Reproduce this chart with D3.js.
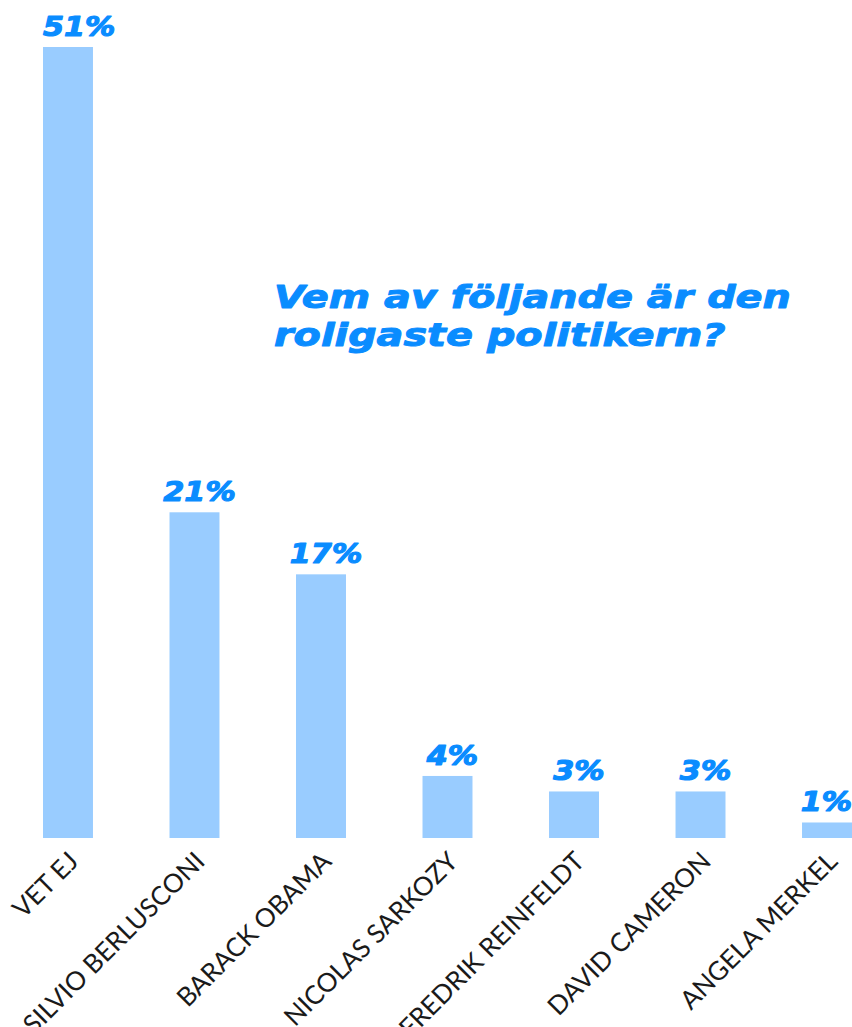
<!DOCTYPE html>
<html><head><meta charset="utf-8">
<script src="https://cdn.jsdelivr.net/npm/d3@7"></script>
<style>body{margin:0;background:#fff}</style></head>
<body>
<svg id="c" width="852" height="1027"></svg>
<script>
const categories = ["VET EJ","SILVIO BERLUSCONI","BARACK OBAMA","NICOLAS SARKOZY","FREDRIK REINFELDT","DAVID CAMERON","ANGELA MERKEL"];
const values = [51,21,17,4,3,3,1];
const valueLabels = ["51%","21%","17%","4%","3%","3%","1%"];
const titleLines = ["Vem av följande är den","roligaste politikern?"];

const svg = d3.select("#c");
const plotLeft = 43, plotRight = 852, plotTop = 47, plotBottom = 838;
const blue = "#0a8cff";
const x = d3.scaleBand().domain(categories).range([plotLeft, plotRight]).paddingInner(0.605).paddingOuter(0);
const y = d3.scaleLinear().domain([0, d3.max(values)]).range([plotBottom, plotTop]);
const data = categories.map((c,i)=>({c, v:values[i], l:valueLabels[i]}));

svg.selectAll("rect.bar").data(data).join("rect").attr("class","bar")
  .attr("x", d=>x(d.c)).attr("width", x.bandwidth())
  .attr("y", d=>y(d.v)).attr("height", d=>y(0)-y(d.v))
  .attr("fill","#99ccff");

const boldFont = "'DejaVu Sans', sans-serif";
const labStretch = 1.12;
const labs = svg.selectAll("g.vl").data(data).join("g").attr("class","vl");
labs.each(function(d){
  const g = d3.select(this);
  const t = g.append("text").text(d.l)
    .attr("font-family", boldFont).attr("font-weight","bold").attr("font-style","italic")
    .attr("font-size", 27).attr("fill", blue).attr("stroke", blue).attr("stroke-width", 1.2)
    .attr("stroke-linejoin","round").attr("text-anchor","middle");
  const w = t.node().getComputedTextLength()*labStretch;
  let cx = Math.max(x(d.c)+x.bandwidth()/2+5, plotLeft + w/2);
  cx = Math.min(cx, plotRight - w/2);
  g.attr("transform", `translate(${cx},${y(d.v)-11}) scale(${labStretch},1)`);
});

// title, stretched horizontally so the first line spans the reference width
const titleG = svg.append("g");
const title = titleG.append("text").attr("font-family", boldFont).attr("font-weight","bold")
  .attr("font-style","italic").attr("font-size",32).attr("fill", blue)
  .attr("stroke", blue).attr("stroke-width", 1.0).attr("stroke-linejoin","round");
title.selectAll("tspan").data(titleLines).join("tspan")
  .attr("x",0).attr("y",(d,i)=>i*38).text(d=>d);
const l1 = title.select("tspan").node().getComputedTextLength();
const tStretch = 517 / l1;
titleG.attr("transform", `translate(274,308) scale(${tStretch},1)`);

svg.selectAll("text.cat").data(data).join("text").attr("class","cat")
  .attr("transform", d=>`translate(${x(d.c)+x.bandwidth()/2+12},863) rotate(-45)`)
  .attr("text-anchor","end").attr("font-family","Lato, sans-serif").attr("font-weight",400)
  .attr("font-size",26).attr("fill","#1a1a1a").text(d=>d.c);
</script>
</body></html>
